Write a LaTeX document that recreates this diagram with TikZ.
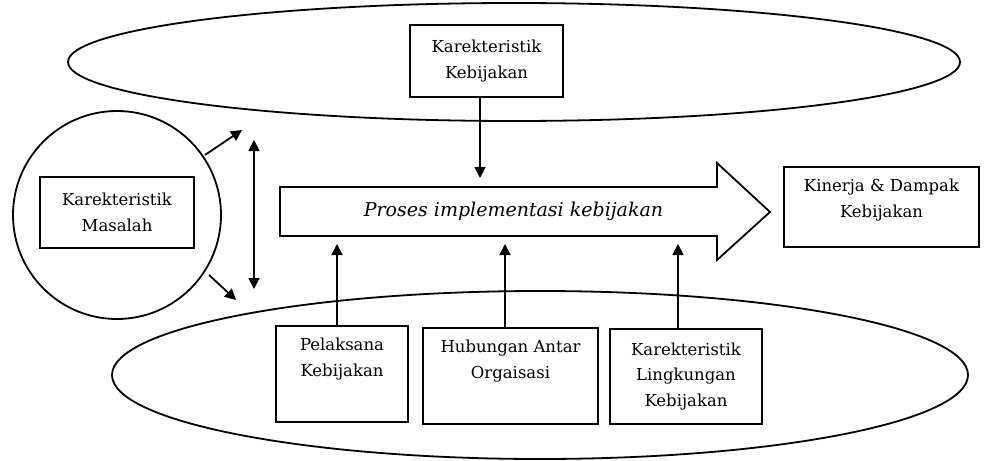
\documentclass[tikz,border=0pt]{standalone}
\usepackage{fontspec}
\setmainfont{DejaVu Serif}
\usetikzlibrary{arrows.meta,shapes.geometric}
\begin{document}
\begin{tikzpicture}[x=1pt,y=-1pt,
  lbox/.style={draw,line width=1.8pt,inner sep=0pt,align=center,font=\fontsize{16.5}{25.5}\selectfont},
  arr/.style={line width=1.8pt,-{Triangle[length=11pt,width=11pt]}},
  outl/.style={draw,line width=1.8pt}]
\useasboundingbox (0,0) rectangle (984,460);
% ellipses and circle
\node[outl,ellipse,minimum width=892pt,minimum height=118pt,inner sep=0pt] (topell) at (514,62) {};
\node[outl,ellipse,minimum width=856pt,minimum height=168pt,inner sep=0pt] (botell) at (540,375) {};
\node[outl,circle,minimum size=208pt,inner sep=0pt,fill=white] (circ) at (117,215) {};
% boxes
\node[lbox,fill=white,minimum width=154pt,minimum height=71pt] (masalah) at (117,212.5) {Karekteristik\\Masalah};
\node[lbox,fill=white,minimum width=153pt,minimum height=72pt] (kebij) at (486.5,61) {Karekteristik\\Kebijakan};
\node[lbox,minimum width=195pt,minimum height=80pt] (kinerja) at (881.5,207) {Kinerja \& Dampak\\Kebijakan\\[-15.5pt]\strut};
\node[lbox,fill=white,minimum width=132pt,minimum height=96pt,anchor=north] (pelak) at (342,325) {Pelaksana\\Kebijakan\\\strut};
\node[lbox,fill=white,minimum width=175pt,minimum height=96pt,anchor=north] (hub) at (510.5,327) {Hubungan Antar\\Orgaisasi\\\strut};
\node[lbox,fill=white,minimum width=152pt,minimum height=95pt,anchor=north] (ling) at (686,328) {Karekteristik\\Lingkungan\\Kebijakan};
% big arrow
\draw[line width=1.8pt,line join=miter] (280,187) -- (717,187) -- (717,163) -- (770,212) -- (717,260) -- (717,236) -- (280,236) -- cycle;
\node[font=\fontsize{19}{24}\selectfont\itshape] (proses) at (513.5,211) {Proses implementasi kebijakan};
\coordinate (ptop) at (480,178);
\coordinate (p1) at (337,244);
\coordinate (p2) at (505,244);
\coordinate (p3) at (678,244);
% arrows
\draw[arr] (kebij.south -| ptop) -- (ptop);
\draw[arr] (pelak.north -| p1) -- (p1);
\draw[arr] (hub.north -| p2) -- (p2);
\draw[arr] (ling.north -| p3) -- (p3);
\coordinate (u1) at (205,155); \coordinate (u2) at (242,130);
\coordinate (d1) at (209,275); \coordinate (d2) at (236,300);
\coordinate (v1) at (254,140); \coordinate (v2) at (254,289);
\draw[arr] (u1) -- (u2);
\draw[arr] (d1) -- (d2);
\draw[arr,{Triangle[length=11pt,width=11pt]}-{Triangle[length=11pt,width=11pt]}] (v1) -- (v2);
\end{tikzpicture}
\end{document}
